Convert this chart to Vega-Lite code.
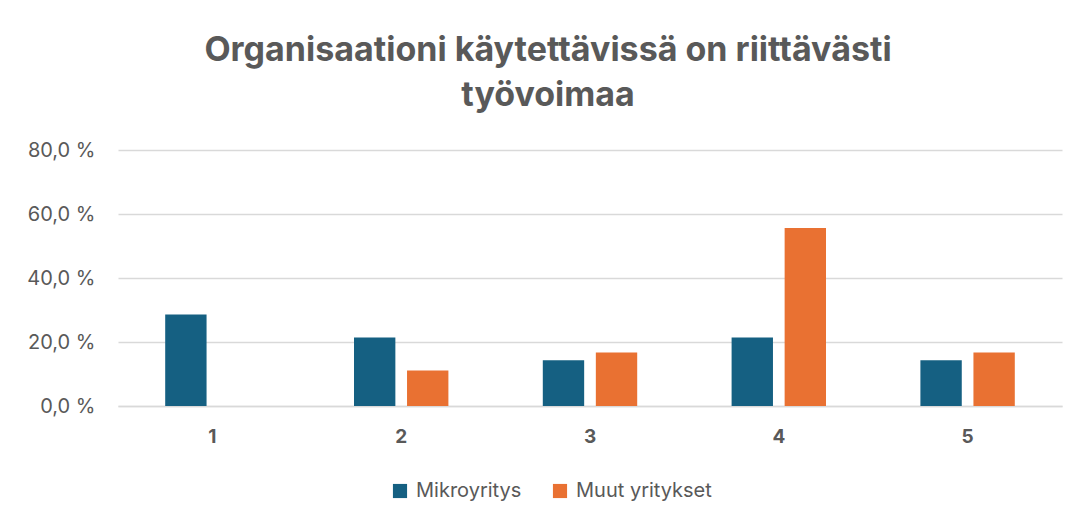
{
  "$schema": "https://vega.github.io/schema/vega-lite/v6.json",
  "width": 944,
  "height": 256,
  "autosize": {"type": "none"},
  "padding": {"left": 118, "top": 150, "right": 21, "bottom": 120},
  "background": "white",
  "title": {
    "text": ["Organisaationi käytettävissä on riittävästi", "työvoimaa"],
    "fontSize": 34,
    "font": "Inter",
    "fontWeight": "bold",
    "color": "#595959",
    "anchor": "middle",
    "dx": -42,
    "offset": 27,
    "lineHeight": 45
  },
  "data": {
    "values": [
      {"kategoria": "1", "ryhma": "Mikroyritys", "osuus": 28.6},
      {"kategoria": "1", "ryhma": "Muut yritykset", "osuus": 0},
      {"kategoria": "2", "ryhma": "Mikroyritys", "osuus": 21.4},
      {"kategoria": "2", "ryhma": "Muut yritykset", "osuus": 11.1},
      {"kategoria": "3", "ryhma": "Mikroyritys", "osuus": 14.3},
      {"kategoria": "3", "ryhma": "Muut yritykset", "osuus": 16.7},
      {"kategoria": "4", "ryhma": "Mikroyritys", "osuus": 21.4},
      {"kategoria": "4", "ryhma": "Muut yritykset", "osuus": 55.6},
      {"kategoria": "5", "ryhma": "Mikroyritys", "osuus": 14.3},
      {"kategoria": "5", "ryhma": "Muut yritykset", "osuus": 16.7}
    ]
  },
  "mark": {"type": "bar"},
  "encoding": {
    "x": {
      "field": "kategoria",
      "type": "nominal",
      "scale": {"paddingInner": 0.5, "paddingOuter": 0.25},
      "axis": {
        "title": null,
        "labelAngle": 0,
        "labelFont": "Inter",
        "labelFontSize": 19,
        "labelFontWeight": "bold",
        "labelColor": "#595959",
        "labelPadding": 21,
        "ticks": false,
        "domainColor": "#D9D9D9",
        "domainWidth": 1.5
      }
    },
    "xOffset": {
      "field": "ryhma",
      "type": "nominal",
      "scale": {"paddingInner": 0.22}
    },
    "y": {
      "field": "osuus",
      "type": "quantitative",
      "scale": {"domain": [0, 80]},
      "axis": {
        "title": null,
        "values": [0, 20, 40, 60, 80],
        "labelExpr": "replace(format(datum.value, '.1f'), '.', ',') + ' %'",
        "labelFont": "Inter",
        "labelFontSize": 20,
        "labelColor": "#595959",
        "labelPadding": 23,
        "ticks": false,
        "domain": false,
        "gridColor": "#D9D9D9",
        "gridWidth": 1.5
      }
    },
    "color": {
      "field": "ryhma",
      "type": "nominal",
      "scale": {"domain": ["Mikroyritys", "Muut yritykset"], "range": ["#156082", "#E97132"]},
      "legend": {
        "title": null,
        "orient": "none",
        "direction": "horizontal",
        "legendX": 272,
        "legendY": 331,
        "symbolType": "square",
        "symbolSize": 200,
        "symbolStrokeWidth": 0,
        "labelFont": "Inter",
        "labelFontSize": 20,
        "labelColor": "#595959",
        "columnPadding": 28,
        "labelOffset": 6
      }
    }
  },
  "config": {"view": {"stroke": null}}
}
